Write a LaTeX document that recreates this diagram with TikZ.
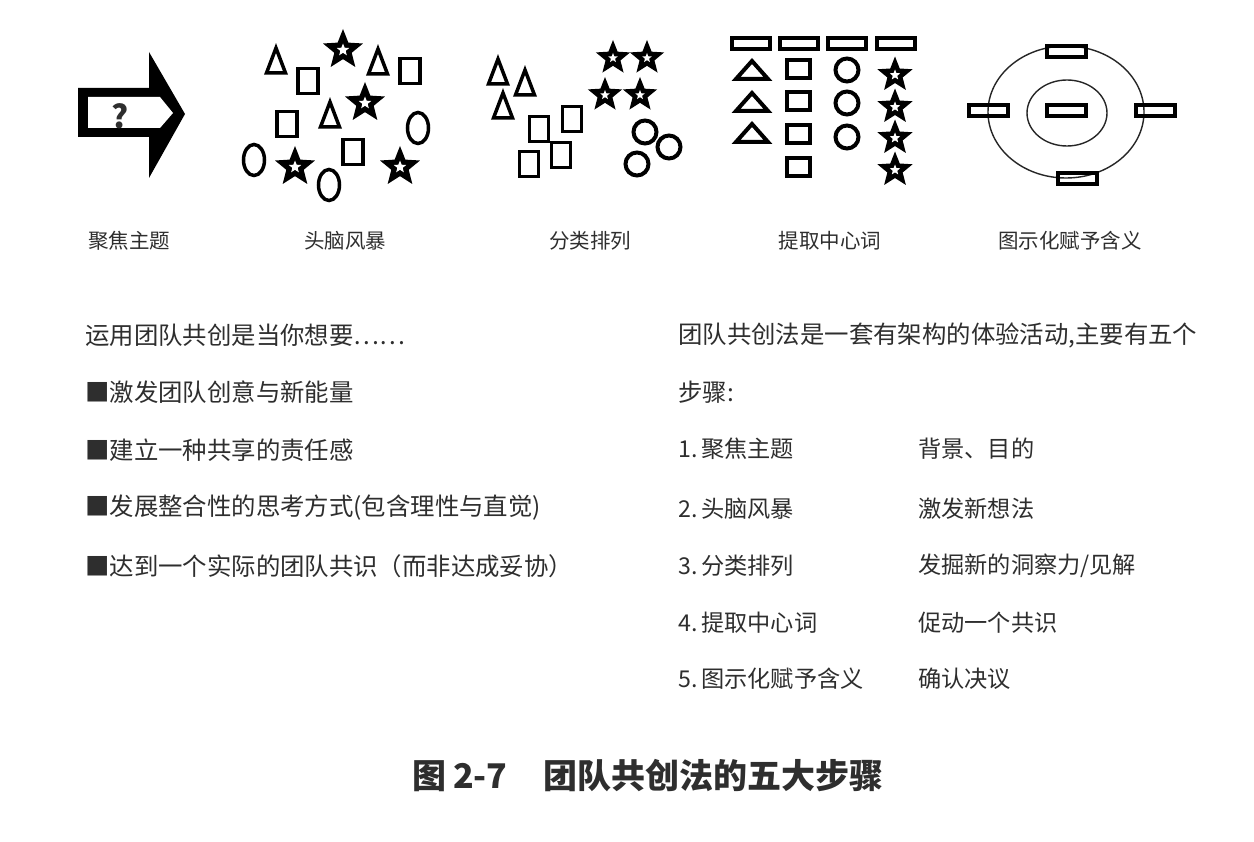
\documentclass[tikz,border=0pt]{standalone}
\usepackage{fontspec}
\setmainfont{Noto Sans CJK SC}
\usetikzlibrary{shapes.geometric}
\definecolor{inkgray}{HTML}{2E2E2E}

\begin{document}
\begin{tikzpicture}[x=1pt,y=-1pt,
  shp/.style={draw=black, line width=3.5pt},
  thinring/.style={draw=black!85, line width=1.4pt},
  blackstar/.style={star, star points=5, star point ratio=2.3, fill=black, inner sep=0pt},
  holestar/.style={star, star points=5, star point ratio=2.3, fill=white, inner sep=0pt},
  iconlabel/.style={font=\fontsize{20.5}{24}\selectfont, text=inkgray, inner sep=0pt},
  bodytext/.style={font=\fontsize{24.4}{28}\selectfont, text=inkgray, anchor=west, inner sep=0pt},
  steptext/.style={font=\fontsize{23.2}{27}\selectfont, text=inkgray, anchor=west, inner sep=0pt}]

\path[use as bounding box, fill=white] (0,0) rectangle (1254,842);

% icon 1: arrow with question mark
\fill[black] (78,88) -- (149,88) -- (149,52) -- (185,114) -- (149,178) -- (149,137) -- (78,137) -- cycle;
\fill[white] (88,97) -- (160,97) -- (173,113) -- (160,128) -- (88,128) -- cycle;
\node[font=\fontsize{32}{32}\selectfont\bfseries, text=inkgray, inner sep=0pt] (quest) at (120,116) {?};

% icon 2: brainstorm
\foreach \x/\y in {276/61, 378/62, 330/115}
  \draw[shp] (\x,\y-13) -- (\x+9.5,\y+12) -- (\x-9.5,\y+12) -- cycle;
\foreach \x/\y in {308/81, 410/71, 287/124, 353/152}
  \draw[shp] (\x-10,\y-12.5) rectangle (\x+10,\y+12.5);
\foreach \x/\y in {418/128, 254/160, 329/185}
  \draw[shp] (\x,\y) ellipse [x radius=10.5pt, y radius=15.5pt];
\foreach \x/\y in {343/50, 365/103, 295/167, 400/167} {
  \node[blackstar, minimum size=42pt] (bs\x) at (\x,\y) {};
  \node[holestar, minimum size=13pt] at (\x,\y) {};
}

% icon 3: sorted into groups
\foreach \x/\y in {498/72, 525/83, 503/106}
  \draw[shp] (\x,\y-13) -- (\x+9.5,\y+12) -- (\x-9.5,\y+12) -- cycle;
\foreach \x/\y in {539/129, 572/119, 529/164, 561/155}
  \draw[shp] (\x-9.5,\y-12.5) rectangle (\x+9.5,\y+12.5);
\foreach \x/\y in {645/132, 669/147, 637/164}
  \draw[shp, line width=4pt] (\x,\y) circle [radius=11.5pt];
\foreach \x/\y in {613/58, 647/58, 605/95, 640/95} {
  \node[blackstar, minimum size=36pt] (gs\x) at (\x,\y) {};
  \node[holestar, minimum size=10pt] at (\x,\y) {};
}

% icon 4: columns with headers
\foreach \x in {751, 799, 847, 896}
  \draw[shp, line width=4pt] (\x-19,38.5) rectangle (\x+19,49.5);
\foreach \y in {70, 102, 133}
  \draw[shp, line width=4pt] (752,\y-9) -- (768,\y+9) -- (736,\y+9) -- cycle;
\foreach \y in {69, 101, 134, 167}
  \draw[shp, line width=4pt] (786.5,\y-9) rectangle (809.5,\y+9);
\foreach \y in {70, 103, 137}
  \draw[shp, line width=4pt] (847,\y) circle [radius=11.5pt];
\foreach \y in {75, 107, 138, 170} {
  \node[blackstar, minimum size=37pt] (cs\y) at (895,\y) {};
  \node[holestar, minimum size=11pt] at (895,\y) {};
}

% icon 5: rings with word cards
\draw[thinring] (1066,112) ellipse [x radius=78pt, y radius=66pt];
\draw[thinring] (1067,113) ellipse [x radius=40pt, y radius=33pt];
\foreach \x/\y in {1066/52, 1066/111, 988/111, 1155/111, 1077/179}
  \draw[shp, line width=4pt] (\x-19.5,\y-5.5) rectangle (\x+19.5,\y+5.5);

% icon captions
\node[iconlabel] (lab1) at (129,241) {聚焦主题};
\node[iconlabel] (lab2) at (345,241) {头脑风暴};
\node[iconlabel] (lab3) at (590,241) {分类排列};
\node[iconlabel] (lab4) at (830,241) {提取中心词};
\node[iconlabel] (lab5) at (1070,241) {图示化赋予含义};

% left column
\node[bodytext] (use)   at (85,335) {运用团队共创是当你想要……};
\node[bodytext] (want1) at (85,392) {■激发团队创意与新能量};
\node[bodytext] (want2) at (85,450) {■建立一种共享的责任感};
\node[bodytext] (want3) at (85,508) {■发展整合性的思考方式(包含理性与直觉)};
\node[bodytext] (want4) at (85,566) {■达到一个实际的团队共识（而非达成妥协）};

% right column
\node[bodytext] (intro) at (678,335) {团队共创法是一套有架构的体验活动,主要有五个};
\node[bodytext] (intro2) at (678,392) {步骤:};
\foreach \i/\y/\s/\g in {1/449/聚焦主题/背景、目的, 2/509/头脑风暴/激发新想法,
    3/566/分类排列/{发掘新的洞察力/见解}, 4/623/提取中心词/促动一个共识,
    5/679/图示化赋予含义/确认决议} {
  \node[steptext] (step\i) at (678,\y) {\i.\,\s};
  \node[steptext] (goal\i) at (918,\y) {\g};
}

% figure caption
\node[font=\fontsize{34}{38}\selectfont\bfseries, text=inkgray, inner sep=0pt, anchor=west] (title) at (412,776)
  {图\hspace{7pt}2-7\hspace{36pt}团队共创法的五大步骤};
\end{tikzpicture}
\end{document}
